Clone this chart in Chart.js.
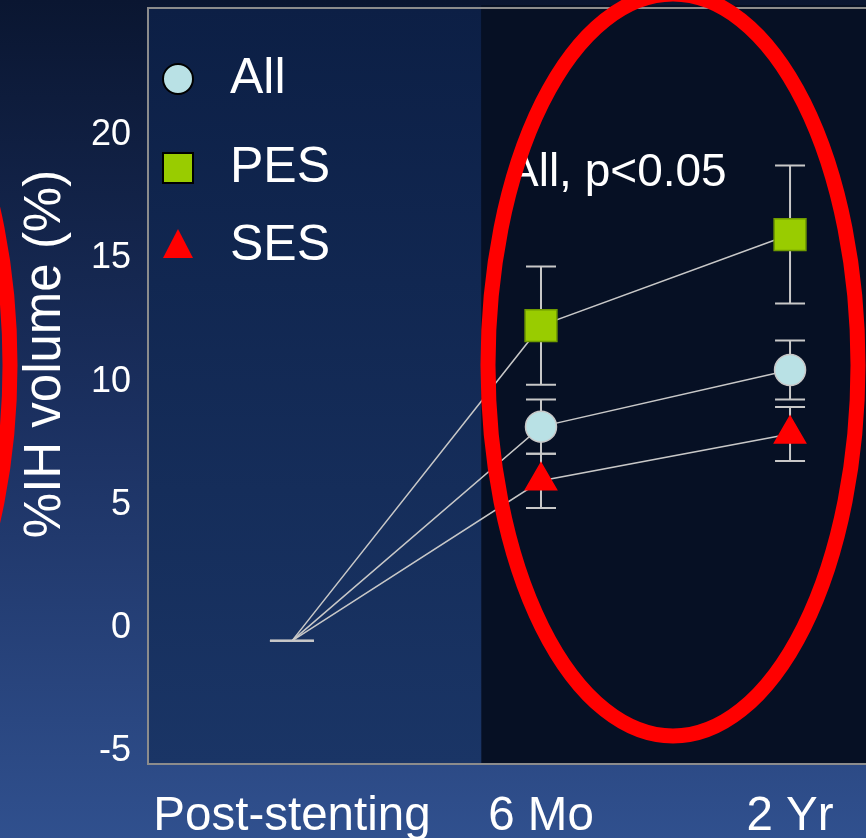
<!DOCTYPE html>
<html>
<head>
<meta charset="utf-8">
<title>%IH volume</title>
<script src="https://cdn.jsdelivr.net/npm/chart.js@4.4.0/dist/chart.umd.min.js"></script>
<style>
  html, body { margin: 0; padding: 0; overflow: hidden; }
  body {
    width: 866px; height: 838px;
    background: linear-gradient(to bottom, #0a1631 0%, #1b3060 50%, #30508e 100%);
  }
  canvas { display: block; }
</style>
</head>
<body>
<canvas id="ihChart" width="866" height="838"></canvas>
<script>
// follow-up timepoints and y axis ticks
const timepoints = ['Post-stenting', '6 Mo', '2 Yr'];
const yTicks = [-5, 0, 5, 10, 15, 20];

// %IH volume, mean and +/- error per timepoint
const allValues = [0, 8.7, 11.0];
const allErrors = [0, 1.1, 1.2];
const pesValues = [0, 12.8, 16.5];
const pesErrors = [0, 2.4, 2.8];
const sesValues = [0, 6.5, 8.4];
const sesErrors = [0, 1.1, 1.1];

const FONT = '"Liberation Sans", Arial, sans-serif';
Chart.defaults.font.family = FONT;

const toPoints = vals => vals.map((v, i) => ({ x: i, y: v }));

// axes keep their fixed sizes, no extra room for overhanging labels
const noPadding = s => {
  s.paddingTop = 0; s.paddingBottom = 0;
  s.paddingLeft = 0; s.paddingRight = 0;
};

// plot background: lighter blue panel on the left, dark panel from 6 Mo onward
const panelPlugin = {
  id: 'panels',
  beforeDraw(chart) {
    const { ctx, chartArea: a, scales: { x } } = chart;
    const split = x.getPixelForValue(0.76);
    ctx.save();
    const g = ctx.createLinearGradient(0, a.top, 0, a.bottom);
    g.addColorStop(0, '#0c1f45');
    g.addColorStop(1, '#1a3566');
    ctx.fillStyle = g;
    ctx.fillRect(a.left, a.top, split - a.left, a.bottom - a.top);
    ctx.fillStyle = '#061024';
    ctx.fillRect(split, a.top - 3, a.right - split, a.bottom - a.top + 3);

    ctx.strokeStyle = '#8c8c8c';
    ctx.lineWidth = 2;
    ctx.beginPath();
    ctx.moveTo(a.right, a.top);
    ctx.lineTo(a.left, a.top);
    ctx.lineTo(a.left, a.bottom);
    ctx.lineTo(a.right, a.bottom);
    ctx.stroke();
    ctx.restore();
  }
};

// vertical error bars with caps, behind the lines and markers
const errorBarPlugin = {
  id: 'errorBars',
  beforeDatasetsDraw(chart) {
    const { ctx, scales: { x, y } } = chart;
    ctx.save();
    ctx.strokeStyle = '#c8c8c8';
    ctx.lineWidth = 2;
    chart.data.datasets.forEach(ds => {
      ds.data.forEach((p, i) => {
        const e = ds.errors[i];
        const px = x.getPixelForValue(p.x);
        const top = y.getPixelForValue(p.y + e);
        const bot = y.getPixelForValue(p.y - e);
        const cap = i === 0 ? 22 : 15;
        ctx.beginPath();
        ctx.moveTo(px, top); ctx.lineTo(px, bot);
        ctx.moveTo(px - cap, top); ctx.lineTo(px + cap, top);
        ctx.moveTo(px - cap, bot); ctx.lineTo(px + cap, bot);
        ctx.stroke();
      });
    });
    ctx.restore();
  }
};

function drawMarker(ctx, style, cx, cy, fill) {
  ctx.fillStyle = fill;
  ctx.strokeStyle = '#000';
  ctx.lineWidth = 2;
  ctx.beginPath();
  if (style === 'circle') {
    ctx.arc(cx, cy, 15, 0, Math.PI * 2);
    ctx.fill(); ctx.stroke();
  } else if (style === 'rect') {
    ctx.rect(cx - 15, cy - 15, 30, 30);
    ctx.fill(); ctx.stroke();
  } else {
    ctx.moveTo(cx, cy - 17);
    ctx.lineTo(cx + 15, cy + 12);
    ctx.lineTo(cx - 15, cy + 12);
    ctx.closePath();
    ctx.fill();
  }
}

// legend, y title, p-value note and the red highlight rings
const overlayPlugin = {
  id: 'overlay',
  afterDraw(chart) {
    const { ctx } = chart;
    ctx.save();

    ctx.fillStyle = '#fff';
    ctx.font = '51px ' + FONT;
    ctx.textAlign = 'center';
    ctx.textBaseline = 'middle';
    ctx.translate(46, 354);
    ctx.rotate(-Math.PI / 2);
    ctx.fillText('%IH volume (%)', 0, 0);
    ctx.setTransform(1, 0, 0, 1, 0, 0);

    const rows = [79, 168, 246];
    chart.data.datasets.forEach((ds, i) => {
      drawMarker(ctx, ds.pointStyle, 178, rows[i], ds.pointBackgroundColor);
      ctx.fillStyle = '#fff';
      ctx.font = '50px ' + FONT;
      ctx.textAlign = 'left';
      ctx.textBaseline = 'middle';
      ctx.fillText(ds.label, 230, rows[i]);
    });

    ctx.font = '46px ' + FONT;
    ctx.fillText('All, p<0.05', 508, 173);

    ctx.strokeStyle = '#ff0000';
    ctx.lineWidth = 15;
    ctx.beginPath();
    ctx.ellipse(673, 365, 185, 371, 0, 0, Math.PI * 2);
    ctx.stroke();
    ctx.beginPath();
    ctx.ellipse(-175, 365, 185, 371, 0, 0, Math.PI * 2);
    ctx.stroke();
    ctx.restore();
  }
};

const lineStyle = {
  borderColor: '#c8c8c8',
  borderWidth: 1.5,
  tension: 0,
  pointBorderWidth: 1.5
};

new Chart(document.getElementById('ihChart'), {
  type: 'line',
  data: {
    datasets: [
      Object.assign({
        label: 'All', data: toPoints(allValues), errors: allErrors,
        pointStyle: 'circle', pointRadius: [0, 15.5, 15.5],
        pointBackgroundColor: '#b9e1e5', pointBorderColor: '#c8c8c8'
      }, lineStyle),
      Object.assign({
        label: 'PES', data: toPoints(pesValues), errors: pesErrors,
        pointStyle: 'rect', pointRadius: [0, 22.5, 22.5],
        pointBackgroundColor: '#99cc00', pointBorderColor: '#6f9a00'
      }, lineStyle),
      Object.assign({
        label: 'SES', data: toPoints(sesValues), errors: sesErrors,
        pointStyle: 'triangle', pointRadius: [0, 18, 18],
        pointBackgroundColor: '#ff0000', pointBorderColor: '#ff0000'
      }, lineStyle)
    ]
  },
  options: {
    responsive: false,
    animation: false,
    layout: { autoPadding: false, padding: { top: 8, right: 0, bottom: 0, left: 0 } },
    plugins: { legend: { display: false }, tooltip: { enabled: false } },
    scales: {
      x: {
        type: 'linear', min: -0.578, max: 2.305,
        afterBuildTicks: s => { s.ticks = timepoints.map((_, i) => ({ value: i })); },
        afterFit: s => { s.height = 74; noPadding(s); },
        grid: { display: false, drawTicks: false },
        border: { display: false },
        ticks: {
          color: '#ffffff', padding: 24, maxRotation: 0, autoSkip: false,
          font: { size: 47.5 },
          callback: v => timepoints[v]
        }
      },
      y: {
        type: 'linear', min: -5, max: 25.7,
        afterBuildTicks: s => { s.ticks = yTicks.map(v => ({ value: v })); },
        afterFit: s => { s.width = 148; noPadding(s); },
        grid: { display: false, drawTicks: false },
        border: { display: false },
        ticks: { color: '#ffffff', padding: 17, labelOffset: -13, font: { size: 36 } }
      }
    }
  },
  plugins: [panelPlugin, errorBarPlugin, overlayPlugin]
});
</script>
</body>
</html>
